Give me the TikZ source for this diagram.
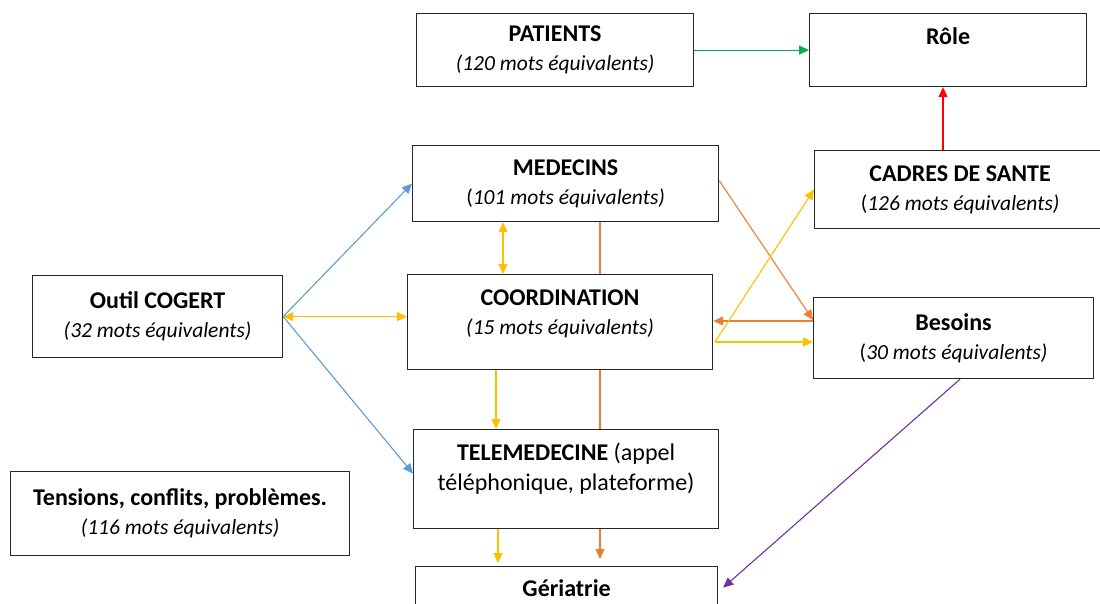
\documentclass[tikz,border=0pt]{standalone}
\usepackage{fontspec}
\setmainfont{Carlito}
\usetikzlibrary{arrows.meta}

\definecolor{cblue}{RGB}{91,155,213}
\definecolor{cyellow}{RGB}{255,192,0}
\definecolor{corange}{RGB}{237,125,49}
\definecolor{cgreen}{RGB}{0,176,80}
\definecolor{cred}{RGB}{255,0,0}
\definecolor{cpurple}{RGB}{112,48,160}

\newcommand{\boxtitle}[1]{{\fontsize{24}{29}\selectfont\bfseries #1}}

\begin{document}
\begin{tikzpicture}[x=1pt,y=-1pt,
  box/.style={draw=black!85,line width=1.2pt,fill=white,align=center,inner sep=0pt,anchor=north west,font=\fontsize{21.5}{29}\selectfont},
  link/.style={line width=1.1pt,-{Triangle[length=10pt,width=9pt]}},
  both/.style={line width=1.1pt,{Triangle[length=10pt,width=9pt]}-{Triangle[length=10pt,width=9pt]}},
  plain/.style={line width=1.1pt}]

\useasboundingbox (0,0) rectangle (1100,604);

% boxes
\node[box,minimum width=277pt,minimum height=73pt] (patients) at (416,13) {\boxtitle{PATIENTS}\\\textit{(120 mots équivalents)}};
\node[box,minimum width=277pt,minimum height=73pt,text depth=28pt] (role) at (809,13) {\boxtitle{Rôle}};
\node[box,minimum width=306pt,minimum height=76pt] (medecins) at (412,145) {\boxtitle{MEDECINS}\\(\textit{101 mots équivalents)}};
\node[box,minimum width=291pt,minimum height=78pt] (cadres) at (814,150) {\boxtitle{CADRES DE SANTE}\\(\textit{126 mots équivalents)}};
\node[box,minimum width=250pt,minimum height=82pt] (cogert) at (32,275) {\boxtitle{Outil COGERT}\\\textit{(32 mots équivalents)}};
\node[box,minimum width=305pt,minimum height=95pt,text depth=19pt] (coord) at (407,274) {\boxtitle{COORDINATION}\\\textit{(15 mots équivalents)}};
\node[box,minimum width=280pt,minimum height=81pt] (besoins) at (813,297) {\boxtitle{Besoins}\\(\textit{30 mots équivalents)}};
\node[box,minimum width=305pt,minimum height=99pt,text depth=25pt,font=\fontsize{24}{30}\selectfont] (tele) at (413,429) {\textbf{TELEMEDECINE} (appel\\téléphonique, plateforme)};
\node[box,minimum width=339pt,minimum height=84pt] (tensions) at (10,471) {\boxtitle{Tensions, conflits, problèmes.}\\\textit{(116 mots équivalents)}};
\node[box,minimum width=302pt,minimum height=64pt,text depth=21pt] (geriatrie) at (415,566) {\boxtitle{Gériatrie}};

\coordinate (split) at (715,342);

% connectors
\draw[link,cgreen] (patients) -- (role);
\draw[link,cred] (943,0 |- cadres.north) -- (943,0 |- role.south);

\draw[link,cblue] (cogert.east) -- (medecins.west);
\draw[link,cblue] (cogert.east) -- ([yshift=5.5pt]tele.west);
\draw[both,cyellow] (cogert.east) -- (cogert.east -| coord.west);

\draw[both,cyellow] (503,0 |- medecins.south) -- (503,0 |- coord.north);
\draw[link,cyellow] (496,0 |- coord.south) -- (496,0 |- tele.north);
\draw[link,cyellow,shorten >=3pt] (498,0 |- tele.south) -- (498,0 |- geriatrie.north);

\draw[plain,corange] (600,0 |- medecins.south) -- (600,0 |- coord.north);
\draw[plain,corange] (600,0 |- coord.south) -- (600,0 |- tele.north);
\draw[link,corange,shorten >=7pt] (600,0 |- tele.south) -- (600,0 |- geriatrie.north);

\draw[link,corange] ([yshift=3pt]medecins.east) -- (besoins.west |- 0,320);
\draw[link,corange] (besoins.west |- 0,321) -- (coord.east |- 0,321);

\draw[link,cyellow] (split) -- (besoins.west |- split);
\draw[link,cyellow] (split) -- (cadres.west);

\draw[link,cpurple] (960,0 |- besoins.south) -- ([xshift=5pt,yshift=11pt]geriatrie.east);
\end{tikzpicture}
\end{document}
